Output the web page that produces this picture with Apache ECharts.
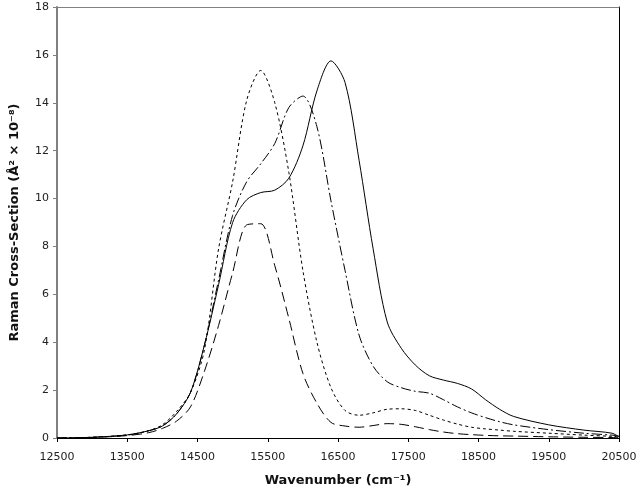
<!DOCTYPE html>
<html>
<head>
<meta charset="utf-8">
<script src="https://cdn.jsdelivr.net/npm/echarts@6/dist/echarts.min.js"></script>
<style>
    html, body { margin: 0; padding: 0; background: #fff; }
    #chart { width: 640px; height: 493px; }
</style>
</head>
<body>
<div id="chart"></div>
<script>
// wavenumber grid (cm-1)
const wavenumbers = [
    12500, 13000, 13500, 13800, 14000, 14200, 14400, 14600, 14800, 15000,
    15200, 15400, 15600, 15800, 16000, 16200, 16400, 16600, 16800, 17000,
    17200, 17400, 17600, 17800, 18000, 18200, 18400, 18600, 18800, 19000,
    19500, 20000, 20400, 20500
];

// cross-sections (A^2 x 1e-8)
const solidVals = [
    0, 0.03, 0.13, 0.3, 0.5, 1.0, 1.9, 3.9, 6.4, 9.0,
    9.95, 10.25, 10.35, 10.85, 12.2, 14.5, 15.75, 14.85, 11.6, 7.9,
    4.85, 3.75, 3.05, 2.6, 2.42, 2.28, 2.05, 1.6, 1.2, 0.9,
    0.55, 0.33, 0.2, 0.05
];
const dashDotVals = [
    0, 0.03, 0.12, 0.3, 0.5, 1.0, 1.9, 3.9, 6.6, 9.3,
    10.7, 11.45, 12.3, 13.8, 14.28, 13.0, 9.9, 7.0, 4.3, 3.0,
    2.35, 2.1, 1.95, 1.87, 1.6, 1.3, 1.05, 0.85, 0.68, 0.55,
    0.35, 0.2, 0.12, 0.08
];
const shortDashVals = [
    0, 0.03, 0.13, 0.3, 0.55, 1.1, 1.9, 3.7, 7.9, 10.7,
    14.1, 15.35, 14.0, 11.1, 7.0, 4.0, 2.1, 1.15, 0.95, 1.05,
    1.2, 1.22, 1.15, 0.95, 0.75, 0.58, 0.45, 0.38, 0.33, 0.28,
    0.2, 0.12, 0.07, 0.05
];
const longDashVals = [
    0, 0.02, 0.1, 0.22, 0.4, 0.7, 1.3, 2.8, 4.7, 6.9,
    8.9, 8.95, 7.2, 5.0, 2.7, 1.45, 0.65, 0.5, 0.45, 0.52,
    0.6, 0.57, 0.47, 0.35, 0.25, 0.18, 0.14, 0.11, 0.09, 0.08,
    0.05, 0.03, 0.02, 0.01
];

const pairs = (vals) => wavenumbers.map((w, i) => [w, vals[i]]);

const fontFamily = "DejaVu Sans, Verdana, sans-serif";

function line(name, vals, type) {
    return {
        name,
        type: "line",
        data: pairs(vals),
        smooth: 0.3,
        showSymbol: false,
        lineStyle: { color: "#000", width: 1, type },
        xAxisIndex: 0,
        yAxisIndex: 0,
    };
}

const chart = echarts.init(document.getElementById("chart"));
chart.setOption({
    animation: false,
    grid: { left: 57, right: 21, top: 7, bottom: 55 },
    xAxis: [
        {
            type: "value",
            min: 12500,
            max: 20500,
            interval: 1000,
            name: "Wavenumber (cm⁻¹)",
            nameLocation: "middle",
            nameGap: 36,
            nameTextStyle: { fontFamily, fontWeight: "bold", fontSize: 13, color: "#111" },
            axisLine: { show: true, lineStyle: { color: "#000", width: 1 } },
            axisTick: { show: true, length: 4, lineStyle: { color: "#000" } },
            axisLabel: {
                fontFamily, fontSize: 11, color: "#222", margin: 14,
                formatter: (v) => String(v),
            },
            splitLine: { show: false },
        },
        {
            type: "value",
            position: "top",
            min: 12500,
            max: 20500,
            axisLine: { show: true, onZero: false, lineStyle: { color: "#808080", width: 1 } },
            axisTick: { show: false },
            axisLabel: { show: false },
            splitLine: { show: false },
        },
    ],
    yAxis: [
        {
            type: "value",
            min: 0,
            max: 18,
            interval: 2,
            name: "Raman Cross-Section (Å² × 10⁻⁸)",
            nameLocation: "middle",
            nameGap: 36,
            nameTextStyle: { fontFamily, fontWeight: "bold", fontSize: 13, color: "#111" },
            axisLine: { show: true, lineStyle: { color: "#808080", width: 2 } },
            axisTick: { show: true, length: 4, lineStyle: { color: "#808080" } },
            axisLabel: { fontFamily, fontSize: 11, color: "#222", margin: 8 },
            splitLine: { show: false },
        },
        {
            type: "value",
            position: "right",
            min: 0,
            max: 18,
            axisLine: { show: true, onZero: false, lineStyle: { color: "#000", width: 1 } },
            axisTick: { show: false },
            axisLabel: { show: false },
            splitLine: { show: false },
        },
    ],
    series: [
        line("solid", solidVals, "solid"),
        line("dashDot", dashDotVals, [10, 3, 2, 3]),
        line("shortDash", shortDashVals, [3, 3]),
        line("longDash", longDashVals, [10, 5]),
    ],
});
</script>
</body>
</html>
